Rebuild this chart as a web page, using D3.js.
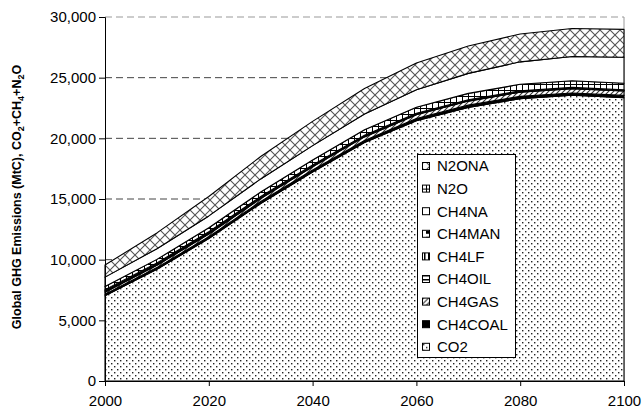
<!DOCTYPE html>
<html>
<head>
<meta charset="utf-8">
<script src="https://cdn.jsdelivr.net/npm/d3@7"></script>
<style>
  html, body { margin: 0; padding: 0; background: #fff; }
  svg { display: block; font-family: "Liberation Sans", Arial, sans-serif; }
</style>
</head>
<body>
<svg id="chart" width="642" height="412"></svg>
<script>
// ---- data (MtC) ----
const years   = [2000, 2010, 2020, 2030, 2040, 2050, 2060, 2070, 2080, 2090, 2100];
const CO2     = [7020, 9200, 11740, 14630, 17220, 19650, 21450, 22550, 23270, 23550, 23350];
const CH4COAL = [130, 145, 155, 165, 170, 175, 180, 185, 190, 190, 190];
const CH4GAS  = [170, 195, 220, 245, 270, 295, 315, 335, 350, 360, 360];
const CH4OIL  = [70, 65, 60, 55, 50, 45, 40, 38, 35, 32, 30];
const CH4LF   = [70, 65, 60, 55, 50, 45, 40, 38, 35, 32, 30];
const CH4MAN  = [70, 65, 60, 55, 50, 45, 40, 38, 35, 32, 30];
const N2O     = [250, 290, 330, 370, 410, 450, 490, 520, 540, 550, 550];
const CH4NA   = [780, 880, 980, 1080, 1180, 1300, 1450, 1650, 1850, 2000, 2140];
const N2ONA   = [1000, 1300, 1600, 1850, 2000, 2100, 2200, 2250, 2300, 2300, 2300];

const yTicks = [0, 5000, 10000, 15000, 20000, 25000, 30000];
const xTicks = [2000, 2020, 2040, 2060, 2080, 2100];

// stacking order (bottom -> top) and legend order (top -> bottom)
const stackKeys  = ["CO2", "CH4COAL", "CH4GAS", "CH4OIL", "CH4LF", "CH4MAN", "N2O", "CH4NA", "N2ONA"];
const legendKeys = ["N2ONA", "N2O", "CH4NA", "CH4MAN", "CH4LF", "CH4OIL", "CH4GAS", "CH4COAL", "CO2"];
const seriesData = { CO2, CH4COAL, CH4GAS, CH4OIL, CH4LF, CH4MAN, N2O, CH4NA, N2ONA };

const rows = years.map((yr, i) => {
  const r = { year: yr };
  stackKeys.forEach(k => r[k] = seriesData[k][i]);
  return r;
});

// ---- layout ----
const svg = d3.select("#chart");
const x = d3.scaleLinear().domain([2000, 2100]).range([105, 624]);
const y = d3.scaleLinear().domain([0, 30000]).range([381, 17]);

// ---- patterns ----
const defs = svg.append("defs");
function pat(id, w, h, build) {
  const p = defs.append("pattern").attr("id", id).attr("patternUnits", "userSpaceOnUse")
    .attr("width", w).attr("height", h);
  p.append("rect").attr("width", w).attr("height", h).attr("fill", "#fff");
  build(p);
}
pat("p-co2", 6, 6, p => {
  p.append("rect").attr("x", 0).attr("y", 0).attr("width", 1.4).attr("height", 1.4).attr("fill", "#222");
  p.append("rect").attr("x", 3).attr("y", 3).attr("width", 1.4).attr("height", 1.4).attr("fill", "#222");
});
pat("p-gas", 5, 5, p => {
  p.append("path").attr("d", "M0,5 L5,0 M-1,1 L1,-1 M4,6 L6,4").attr("stroke", "#333").attr("stroke-width", 1.1);
});
pat("p-oil", 4, 4, p => {
  p.append("rect").attr("x", 0).attr("y", 0).attr("width", 4).attr("height", 1.5).attr("fill", "#000");
});
pat("p-lf", 4, 4, p => {
  p.append("rect").attr("x", 0).attr("y", 0).attr("width", 1.5).attr("height", 4).attr("fill", "#000");
});
pat("p-man", 6, 6, p => {
  p.append("rect").attr("x", 0).attr("y", 3).attr("width", 3).attr("height", 3).attr("fill", "#000");
});
pat("p-n2o", 6, 6, p => {
  p.append("path").attr("d", "M0.5,0 L0.5,6 M0,0.5 L6,0.5").attr("stroke", "#000").attr("stroke-width", 1);
});
pat("p-n2ona", 10, 10, p => {
  p.append("path").attr("d", "M0,0 L10,10 M10,0 L0,10").attr("stroke", "#555").attr("stroke-width", 1.1);
});

const fills = {
  CO2: "url(#p-co2)", CH4COAL: "#000", CH4GAS: "url(#p-gas)", CH4OIL: "url(#p-oil)",
  CH4LF: "url(#p-lf)", CH4MAN: "url(#p-man)", N2O: "url(#p-n2o)", CH4NA: "#fff", N2ONA: "url(#p-n2ona)"
};

// ---- gridlines ----
svg.append("g").selectAll("line").data(yTicks.filter(v => v > 0)).join("line")
  .attr("x1", x(2000)).attr("x2", x(2100))
  .attr("y1", d => y(d)).attr("y2", d => y(d))
  .attr("stroke", d => d === 30000 ? "#999" : "#444")
  .attr("stroke-width", 1)
  .attr("stroke-dasharray", "7,4");
svg.append("line").attr("x1", x(2100)).attr("x2", x(2100)).attr("y1", y(30000)).attr("y2", y(0))
  .attr("stroke", "#999").attr("stroke-width", 1);

// ---- stacked areas ----
const stacked = d3.stack().keys(stackKeys)(rows);
const area = d3.area()
  .x(d => x(d.data.year))
  .y0(d => y(d[0]))
  .y1(d => y(d[1]));

svg.append("g").selectAll("path").data(stacked).join("path")
  .attr("d", area)
  .attr("fill", d => fills[d.key])
  .attr("stroke", "#000")
  .attr("stroke-width", 1.1)
  .attr("stroke-linejoin", "round");

// ---- axes ----
const yAxis = svg.append("g").attr("transform", `translate(${x(2000)},0)`)
  .call(d3.axisLeft(y).tickValues(yTicks).tickFormat(d3.format(",")).tickSize(6).tickPadding(3));
const xAxis = svg.append("g").attr("transform", `translate(0,${y(0)})`)
  .call(d3.axisBottom(x).tickValues(xTicks).tickFormat(d3.format("d")).tickSize(5).tickPadding(9));
[yAxis, xAxis].forEach(g => {
  g.selectAll("path,line").attr("stroke", "#000");
  g.selectAll("text").attr("fill", "#000").style("font-size", "15px")
    .style("font-family", "'Liberation Sans', Arial, sans-serif");
});

// ---- y-axis title ----
const title = svg.append("text")
  .attr("transform", "translate(21,197) rotate(-90)")
  .attr("text-anchor", "middle")
  .style("font-size", "12.5px").style("font-weight", "bold");
const parts = [["Global GHG Emissions (MtC), CO", false], ["2", true], ["+CH", false], ["4", true], ["+N", false], ["2", true], ["O", false]];
let sub = false;
parts.forEach(([t, s]) => {
  const ts = title.append("tspan").text(t);
  if (s && !sub) { ts.attr("dy", 3).style("font-size", "9px"); sub = true; }
  else if (!s && sub) { ts.attr("dy", -3); sub = false; }
  else if (s) ts.style("font-size", "9px");
});

// ---- legend ----
const lg = svg.append("g");
lg.append("rect").attr("x", 417.5).attr("y", 154.5).attr("width", 98).attr("height", 203)
  .attr("fill", "#fff").attr("stroke", "#000").attr("stroke-width", 1);
const items = lg.selectAll("g.item").data(legendKeys).join("g").attr("class", "item")
  .attr("transform", (d, i) => `translate(0,${166 + i * 22.6})`);
items.append("rect").attr("x", 422.5).attr("y", -3.5).attr("width", 7).attr("height", 7)
  .attr("fill", d => fills[d]).attr("stroke", "#000").attr("stroke-width", 1);
items.append("text").attr("x", 437).attr("y", 0).attr("dy", "0.36em")
  .style("font-size", "15px").text(d => d);
</script>
</body>
</html>
